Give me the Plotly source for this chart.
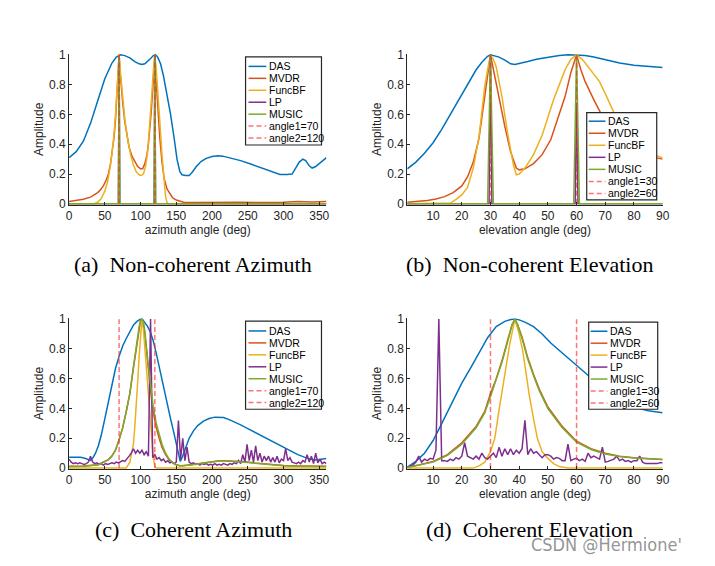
import plotly.graph_objects as go

W, H = 715, 566

# ---------------- data ----------------
NAMES = ["DAS", "MVDR", "FuncBF", "LP", "MUSIC"]
COLORS = ["#0072BD", "#D95319", "#EDB120", "#7E2F8E", "#77AC30"]
DASH_COLOR = "rgba(255,40,40,0.65)"

az_ticks = [0, 50, 100, 150, 200, 250, 300, 350]
el_ticks = [10, 20, 30, 40, 50, 60, 70, 80, 90]
amp_ticks = [0, 0.2, 0.4, 0.6, 0.8, 1]
amp_labels = ["0", "0.2", "0.4", "0.6", "0.8", "1"]

# (a) Non-coherent azimuth
a_das_x = [0, 10, 20, 30, 40, 50, 60, 66, 72, 78, 85, 92, 98, 102, 106, 110, 114, 118, 121, 124, 128, 132, 137, 142, 147, 151, 155, 158, 163, 168, 172, 178, 185, 192, 200, 208, 215, 225, 240, 255, 270, 285, 295, 305, 312, 317, 322, 327, 331, 336, 340, 345, 350, 355, 360]
a_das_y = [0.31, 0.35, 0.42, 0.54, 0.69, 0.84, 0.945, 0.985, 1.0, 0.995, 0.98, 0.955, 0.94, 0.935, 0.94, 0.955, 0.975, 0.995, 1.0, 0.985, 0.94, 0.86, 0.74, 0.6, 0.44, 0.3, 0.215, 0.195, 0.19, 0.19, 0.21, 0.25, 0.285, 0.305, 0.318, 0.322, 0.32, 0.31, 0.29, 0.265, 0.24, 0.21, 0.197, 0.196, 0.2, 0.24, 0.28, 0.3, 0.29, 0.255, 0.24, 0.25, 0.27, 0.29, 0.31]
a_mvdr_x = [0, 10, 20, 30, 36, 40, 44, 48, 52, 55, 58, 61, 63, 65, 67, 68.5, 70, 71.5, 73, 75, 78, 81, 84, 88, 92, 96, 100, 103, 106, 109, 111, 113, 115, 117, 118.5, 120, 121.5, 123, 125, 127, 130, 133, 137, 141, 145, 150, 155, 160, 180, 200, 220, 240, 260, 280, 300, 320, 340, 360]
a_mvdr_y = [0.015, 0.02, 0.03, 0.045, 0.06, 0.075, 0.095, 0.12, 0.16, 0.2, 0.27, 0.36, 0.45, 0.57, 0.72, 0.86, 1.0, 0.88, 0.78, 0.68, 0.55, 0.45, 0.38, 0.32, 0.28, 0.25, 0.235, 0.235, 0.27, 0.33, 0.4, 0.5, 0.62, 0.77, 0.88, 1.0, 0.85, 0.72, 0.58, 0.44, 0.28, 0.17, 0.1, 0.065, 0.04, 0.025, 0.015, 0.01, 0.008, 0.01, 0.012, 0.01, 0.008, 0.008, 0.01, 0.015, 0.012, 0.015]
a_func_x = [0, 35, 40, 45, 50, 54, 58, 62, 65, 67.5, 70, 72.5, 75, 78, 82, 86, 90, 94, 98, 101, 104, 107, 110, 113, 115.5, 118, 120, 122, 124.5, 127, 130, 133, 135, 137, 139, 360]
a_func_y = [0, 0, 0.01, 0.035, 0.085, 0.15, 0.26, 0.42, 0.6, 0.8, 1.0, 0.85, 0.72, 0.57, 0.43, 0.33, 0.26, 0.215, 0.195, 0.19, 0.2, 0.25, 0.35, 0.52, 0.72, 0.9, 1.0, 0.9, 0.75, 0.55, 0.33, 0.14, 0.05, 0.01, 0, 0]
a_lp_x = [0, 69, 70, 71, 119, 120, 121, 360]
a_lp_y = [0, 0, 1, 0, 0, 1, 0, 0]
a_music_x = [0, 69, 70, 71, 119, 120, 121, 360]
a_music_y = [0, 0, 1, 0, 0, 1, 0, 0]
a_angles = [70, 120]

# (b) Non-coherent elevation
b_das_x = [1, 4, 7, 10, 13, 16, 19, 22, 25, 27, 29, 30, 31, 33, 35, 37, 38.5, 40, 43, 46, 50, 54, 57, 60, 63, 66, 70, 75, 80, 85, 90]
b_das_y = [0.235, 0.28, 0.34, 0.41, 0.5, 0.6, 0.7, 0.8, 0.9, 0.95, 0.99, 1.0, 0.995, 0.985, 0.965, 0.94, 0.935, 0.94, 0.955, 0.97, 0.985, 0.995, 1.0, 1.0, 0.995, 0.985, 0.965, 0.945, 0.93, 0.92, 0.915]
b_mvdr_x = [1, 5, 8, 11, 14, 17, 20, 22, 24, 26, 28, 29, 30, 31, 32, 33, 35, 37, 39, 40, 42, 45, 48, 51, 54, 56, 58, 60, 61.5, 63, 66, 68, 70, 75, 80, 85, 90]
b_mvdr_y = [0.01, 0.015, 0.022, 0.032, 0.048, 0.075, 0.12, 0.18, 0.28, 0.44, 0.7, 0.86, 1.0, 0.9, 0.8, 0.71, 0.52, 0.35, 0.24, 0.228, 0.235, 0.27, 0.33, 0.43, 0.6, 0.72, 0.88, 1.0, 0.9, 0.82, 0.7, 0.62, 0.55, 0.45, 0.37, 0.32, 0.3]
b_func_x = [1, 14, 16, 18, 20, 22, 24, 26, 28, 29, 30, 31, 32, 34, 36, 38, 39, 40, 42, 45, 48, 50, 52, 54, 56, 58, 60, 62, 64, 66, 68, 70, 72, 74, 80, 85, 90]
b_func_y = [0, 0, 0.005, 0.03, 0.06, 0.11, 0.24, 0.45, 0.79, 0.9, 1.0, 0.97, 0.92, 0.72, 0.47, 0.26, 0.195, 0.2, 0.24, 0.33, 0.46, 0.58, 0.7, 0.8, 0.9, 0.97, 1.0, 0.97, 0.92, 0.87, 0.82, 0.74, 0.65, 0.57, 0.42, 0.34, 0.31]
b_lp_x = [1, 29.5, 30, 30.5, 59.5, 60, 60.5, 90]
b_lp_y = [0, 0, 1, 0, 0, 0.68, 0, 0]
b_music_x = [1, 29, 30, 31, 59, 60, 61, 90]
b_music_y = [0, 0, 1, 0, 0, 1, 0, 0]
b_angles = [30, 60]

# (c) Coherent azimuth
c_das_x = [0, 8, 16, 22, 27, 30, 33, 37, 41, 45, 50, 55, 60, 65, 70, 75, 80, 85, 90, 95, 100, 103, 106, 110, 114, 118, 122, 126, 130, 134, 138, 142, 146, 150, 153, 155.5, 158, 163, 168, 174, 180, 188, 196, 204, 210, 216, 224, 232, 240, 250, 260, 270, 280, 290, 300, 310, 320, 330, 338, 345, 352, 360]
c_das_y = [0.073, 0.074, 0.072, 0.066, 0.058, 0.052, 0.065, 0.1, 0.15, 0.22, 0.33, 0.45, 0.57, 0.67, 0.75, 0.82, 0.87, 0.92, 0.96, 0.985, 1.0, 0.997, 0.98, 0.95, 0.91, 0.85, 0.77, 0.68, 0.59, 0.49, 0.4, 0.33, 0.25, 0.17, 0.09, 0.045, 0.07, 0.14, 0.2, 0.25, 0.285, 0.315, 0.333, 0.342, 0.343, 0.34, 0.325, 0.31, 0.29, 0.265, 0.24, 0.215, 0.19, 0.16, 0.135, 0.11, 0.09, 0.072, 0.06, 0.055, 0.058, 0.065]
c_wide_x = [0, 20, 40, 50, 55, 60, 65, 70, 75, 80, 85, 90, 94, 98, 100, 102, 104, 106, 110, 114, 118, 122, 126, 130, 135, 140, 145, 150, 155, 160, 170, 180, 190, 200, 210, 220, 230, 240, 250, 260, 270, 285, 300, 320, 340, 360]
c_mvdr_y = [0.012, 0.014, 0.022, 0.042, 0.057, 0.082, 0.122, 0.19, 0.27, 0.38, 0.5, 0.67, 0.81, 0.94, 0.99, 1.0, 0.97, 0.9, 0.7, 0.52, 0.37, 0.27, 0.2, 0.14, 0.09, 0.055, 0.035, 0.022, 0.016, 0.016, 0.022, 0.03, 0.038, 0.045, 0.049, 0.05, 0.048, 0.045, 0.04, 0.034, 0.029, 0.022, 0.017, 0.014, 0.012, 0.012]
c_music_y = [0.01, 0.012, 0.02, 0.04, 0.055, 0.08, 0.12, 0.19, 0.27, 0.38, 0.5, 0.68, 0.82, 0.95, 0.99, 1.0, 0.98, 0.92, 0.73, 0.55, 0.4, 0.3, 0.23, 0.16, 0.1, 0.06, 0.035, 0.02, 0.015, 0.015, 0.02, 0.028, 0.036, 0.043, 0.047, 0.048, 0.046, 0.043, 0.038, 0.032, 0.027, 0.02, 0.015, 0.012, 0.01, 0.01]
c_func_x = [0, 80, 85, 88, 90, 92, 94, 96, 98, 100, 102, 104, 106, 108, 110, 112, 114, 116, 118, 120, 122, 360]
c_func_y = [0, 0, 0.04, 0.1, 0.16, 0.28, 0.41, 0.58, 0.75, 0.9, 1.0, 0.93, 0.8, 0.67, 0.55, 0.4, 0.26, 0.14, 0.06, 0.015, 0, 0]
c_lp_x = list(range(0, 361, 3))
c_lp_y = [0.06, 0.04, 0.03, 0.035, 0.03, 0.035, 0.03, 0.025, 0.03, 0.04,
          0.08, 0.04, 0.03, 0.035, 0.025, 0.03, 0.02, 0.03, 0.025, 0.03,
          0.035, 0.03, 0.04, 0.035, 0.04, 0.05, 0.045, 0.06, 0.08, 0.1,
          0.13, 0.1, 0.12, 0.1, 0.12, 0.09, 0.11, 0.08, 1.0, 0.07,
          0.09, 0.06, 0.07, 0.05, 0.06, 0.04, 0.05, 0.035, 0.04, 0.03,
          0.04, 0.32, 0.06, 0.2, 0.05, 0.14, 0.04, 0.03, 0.035, 0.025,
          0.03, 0.02, 0.03, 0.025, 0.03, 0.02, 0.025, 0.02, 0.03, 0.02,
          0.025, 0.02, 0.03, 0.025, 0.02, 0.03, 0.025, 0.035, 0.03, 0.05,
          0.03, 0.09, 0.04, 0.16, 0.05, 0.12, 0.04, 0.15, 0.05, 0.1,
          0.04, 0.08, 0.05, 0.08, 0.04, 0.07, 0.04, 0.08, 0.035, 0.06,
          0.05, 0.13, 0.05, 0.07, 0.04, 0.035, 0.03, 0.04, 0.03, 0.05,
          0.04, 0.09, 0.04, 0.08, 0.03, 0.1, 0.035, 0.06, 0.03, 0.04,
          0.03]
c_angles = [70, 120]

# (d) Coherent elevation
d_das_x = [1, 4, 7, 10, 12, 15, 18, 20, 23, 26, 29, 32, 35, 37, 38.5, 40, 42, 45, 48, 51, 54, 57, 60, 63, 66, 70, 75, 80, 85, 90]
d_das_y = [0.005, 0.045, 0.1, 0.185, 0.26, 0.38, 0.49, 0.57, 0.67, 0.775, 0.875, 0.95, 0.985, 0.997, 1.0, 0.995, 0.98, 0.95, 0.9, 0.84, 0.79, 0.735, 0.685, 0.635, 0.59, 0.53, 0.46, 0.41, 0.385, 0.372]
d_wide_x = [1, 5, 10, 15, 20, 25, 28, 30, 32, 34, 36, 37.5, 38.5, 39.5, 41, 43, 45, 47, 50, 55, 60, 65, 70, 75, 80, 85, 90]
d_mvdr_y = [0.005, 0.02, 0.045, 0.09, 0.17, 0.28, 0.38, 0.5, 0.6, 0.72, 0.86, 0.96, 1.0, 0.96, 0.88, 0.74, 0.63, 0.53, 0.41, 0.28, 0.18, 0.13, 0.1, 0.08, 0.07, 0.062, 0.058]
d_music_y = [0.004, 0.018, 0.04, 0.085, 0.16, 0.27, 0.37, 0.48, 0.59, 0.71, 0.85, 0.96, 1.0, 0.96, 0.87, 0.73, 0.62, 0.52, 0.4, 0.27, 0.175, 0.125, 0.095, 0.077, 0.068, 0.06, 0.057]
d_func_x = [1, 24, 26, 28, 30, 31.5, 33, 35, 36.6, 38.5, 40, 41.3, 42.5, 43.6, 45, 46.4, 48, 50, 52, 54, 57, 90]
d_func_y = [0, 0, 0.015, 0.04, 0.11, 0.2, 0.39, 0.62, 0.82, 1.0, 0.9, 0.78, 0.62, 0.48, 0.33, 0.195, 0.11, 0.065, 0.03, 0.01, 0, 0]
d_lp_x = list(range(1, 91))
d_lp_y = [0.005, 0.01, 0.02, 0.04, 0.08, 0.04, 0.06, 0.05, 0.065, 0.06,
          0.12, 1.0, 0.05, 0.05, 0.045, 0.06, 0.05, 0.07, 0.06, 0.08,
          0.17, 0.08, 0.07, 0.06, 0.08, 0.06, 0.1, 0.07, 0.06, 0.08,
          0.1, 0.07, 0.14, 0.08, 0.13, 0.09, 0.13, 0.09, 0.12, 0.1,
          0.13, 0.32, 0.09, 0.13, 0.1, 0.11, 0.09, 0.07, 0.09, 0.09,
          0.08, 0.06, 0.07, 0.065, 0.05, 0.05, 0.16, 0.05, 0.06, 0.065,
          0.05, 0.06, 0.045, 0.1, 0.07, 0.08, 0.07, 0.06, 0.14, 0.04,
          0.045, 0.05, 0.06, 0.08, 0.05, 0.06, 0.045, 0.05, 0.04, 0.05,
          0.05, 0.08, 0.04, 0.03, 0.03, 0.025, 0.03, 0.03, 0.035, 0.035]
d_angles = [30, 60]

captions = ["(a)\u00a0\u00a0Non-coherent Azimuth", "(b)\u00a0\u00a0Non-coherent Elevation",
            "(c)\u00a0\u00a0Coherent Azimuth", "(d)\u00a0\u00a0Coherent Elevation"]
xtitles = ["azimuth angle (deg)", "elevation angle (deg)", "azimuth angle (deg)", "elevation angle (deg)"]

# ---------------- layout geometry (pixels) ----------------
def px(x):
    return x / W


def py(y):
    return 1 - y / H


panels = [
    dict(ax="", box=(67, 49, 328, 203), rng=[0, 360], ticks=az_ticks,
         series=[(a_das_x, a_das_y), (a_mvdr_x, a_mvdr_y), (a_func_x, a_func_y), (a_lp_x, a_lp_y), (a_music_x, a_music_y)],
         angles=a_angles, leg=(246, 52, 323, 142), leg_y0=61.7, leg_dy=12.2, leg_lx=(249, 267), leg_tx=268,
         cap=(193, 264)),
    dict(ax="2", box=(410, 49, 669, 203), rng=[1, 90], ticks=el_ticks,
         series=[(b_das_x, b_das_y), (b_mvdr_x, b_mvdr_y), (b_func_x, b_func_y), (b_lp_x, b_lp_y), (b_music_x, b_music_y)],
         angles=b_angles, leg=(592, 109, 663, 198), leg_y0=117.7, leg_dy=12.3, leg_lx=(594, 611), leg_tx=612,
         cap=(534, 264)),
    dict(ax="3", box=(67, 319, 328, 473), rng=[0, 360], ticks=az_ticks,
         series=[(c_das_x, c_das_y), (c_wide_x, c_mvdr_y), (c_func_x, c_func_y), (c_lp_x, c_lp_y), (c_wide_x, c_music_y)],
         angles=c_angles, leg=(246, 322, 323, 412), leg_y0=332.0, leg_dy=12.2, leg_lx=(249, 267), leg_tx=268,
         cap=(193, 535)),
    dict(ax="4", box=(410, 319, 669, 473), rng=[1, 90], ticks=el_ticks,
         series=[(d_das_x, d_das_y), (d_wide_x, d_mvdr_y), (d_func_x, d_func_y), (d_lp_x, d_lp_y), (d_wide_x, d_music_y)],
         angles=d_angles, leg=(594, 323, 664, 412), leg_y0=332.3, leg_dy=12.2, leg_lx=(596, 613), leg_tx=614,
         cap=(534, 535)),
]

AXCOL = "#262626"
TICKFONT = dict(family="Liberation Sans, Arial, sans-serif", size=12, color=AXCOL)

fig = go.Figure()
layout = dict(width=W, height=H, margin=dict(l=0, r=0, t=0, b=0),
              paper_bgcolor="white", plot_bgcolor="white", showlegend=False)
shapes, annotations = [], []

for i, p in enumerate(panels):
    xa, ya = "x" + p["ax"], "y" + p["ax"]
    for (xs, ys), name, col in zip(p["series"], NAMES, COLORS):
        fig.add_trace(go.Scatter(x=xs, y=ys, mode="lines", name=name, xaxis=xa, yaxis=ya,
                                 line=dict(color=col, width=1.5)))
    for k, ang in enumerate(p["angles"]):
        fig.add_trace(go.Scatter(x=[ang, ang], y=[0, 1], mode="lines", name=f"angle{k+1}={ang}",
                                 xaxis=xa, yaxis=ya,
                                 line=dict(color=DASH_COLOR, width=1.5, dash="5px,3px")))
    x0, y0, x1, y1 = p["box"]
    layout["xaxis" + p["ax"]] = dict(
        domain=[px(x0), px(x1)], range=p["rng"], anchor=ya, tickvals=p["ticks"],
        showline=True, linecolor=AXCOL, linewidth=1, ticks="inside", ticklen=3, tickcolor=AXCOL,
        showgrid=False, zeroline=False, tickfont=TICKFONT,
        title=dict(text=xtitles[i], font=TICKFONT, standoff=2))
    layout["yaxis" + p["ax"]] = dict(
        domain=[py(y1), py(y0)], range=[-0.006, 1.006], anchor=xa, tickvals=amp_ticks, ticktext=amp_labels,
        showline=True, linecolor=AXCOL, linewidth=1, ticks="inside", ticklen=3, tickcolor=AXCOL,
        showgrid=False, zeroline=False, tickfont=TICKFONT,
        title=dict(text="Amplitude", font=TICKFONT, standoff=2))

    # legend box drawn by hand (MATLAB-style compact legend)
    lx0, ly0, lx1, ly1 = p["leg"]
    shapes.append(dict(type="rect", xref="paper", yref="paper", x0=px(lx0), x1=px(lx1), y0=py(ly1), y1=py(ly0),
                       line=dict(color=AXCOL, width=1.2), fillcolor="white", layer="above"))
    labels = NAMES + [f"angle{k+1}={a}" for k, a in enumerate(p["angles"])]
    cols = COLORS + [DASH_COLOR, DASH_COLOR]
    for j, (lab, col) in enumerate(zip(labels, cols)):
        yy = p["leg_y0"] + j * p["leg_dy"]
        shapes.append(dict(type="line", xref="paper", yref="paper", x0=px(p["leg_lx"][0]), x1=px(p["leg_lx"][1]),
                           y0=py(yy), y1=py(yy), layer="above",
                           line=dict(color=col, width=1.5, dash="5px,3px" if j >= 5 else "solid")))
        annotations.append(dict(text=lab, xref="paper", yref="paper", x=px(p["leg_tx"]), y=py(yy),
                                xanchor="left", yanchor="middle", showarrow=False,
                                font=dict(family="Liberation Sans, Arial, sans-serif", size=10.5, color="black")))
    cx, cy = p["cap"]
    annotations.append(dict(text=captions[i], xref="paper", yref="paper", x=px(cx), y=py(cy),
                            xanchor="center", yanchor="middle", showarrow=False,
                            font=dict(family="Liberation Serif, Times New Roman, serif", size=22, color="black")))

annotations.append(dict(text="CSDN @Hermione'", xref="paper", yref="paper", x=px(612), y=py(550),
                        xanchor="center", yanchor="middle", showarrow=False,
                        font=dict(family="DejaVu Sans Condensed, Liberation Sans Narrow, sans-serif", size=18,
                                  color="rgba(120,120,120,0.8)")))

layout["shapes"] = shapes
layout["annotations"] = annotations
fig.update_layout(**layout)
fig.write_html("out.html")
